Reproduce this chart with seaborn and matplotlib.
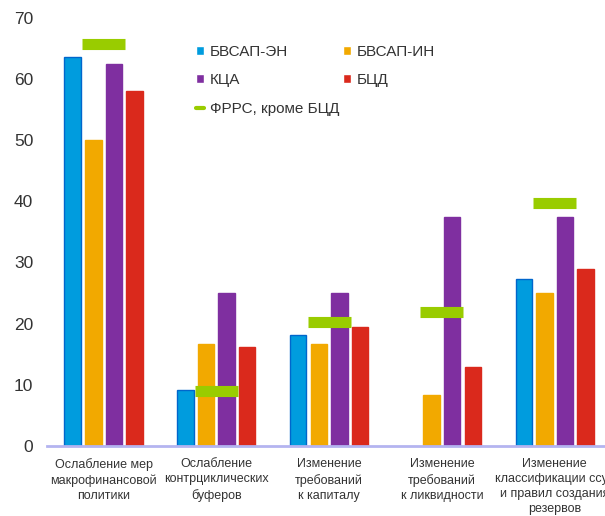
import numpy as np
import pandas as pd
import matplotlib
matplotlib.use("Agg")
import matplotlib.pyplot as plt
from matplotlib.lines import Line2D
import seaborn as sns

# --- data ---
categories = [
    "Ослабление мер\nмакрофинансовой\nполитики",
    "Ослабление\nконтрциклических\nбуферов",
    "Изменение\nтребований\nк капиталу",
    "Изменение\nтребований\nк ликвидности",
    "Изменение\nклассификации ссуд\nи правил создания\nрезервов",
]
series_names = ["БВСАП-ЭН", "БВСАП-ИН", "КЦА", "БЦД"]
bvsap_en = [63.6, 9.1, 18.2, np.nan, 27.3]
bvsap_in = [50.0, 16.7, 16.7, 8.3, 25.0]
kca = [62.5, 25.0, 25.0, 37.5, 37.5]
bcd = [58.1, 16.1, 19.4, 12.9, 29.0]
frrs_name = "ФРРС, кроме БЦД"
frrs = [65.8, 8.9, 20.2, 21.9, 39.7]

colors = ["#009CDE", "#F2A900", "#7F2FA0", "#DA291C"]
edge_colors = ["#0066CC", "#F2A900", "#7F2FA0", "#DA291C"]
green = "#99CC00"

df = pd.DataFrame({
    "category": np.tile(categories, 4),
    "series": np.repeat(series_names, len(categories)),
    "value": bvsap_en + bvsap_in + kca + bcd,
})

sns.set_style("white")
plt.rcParams["font.family"] = ["Liberation Sans", "DejaVu Sans"]

fig = plt.figure(figsize=(6.05, 5.16), dpi=100)
ax = fig.add_axes([0.078, 0.136, 0.932, 0.829])

sns.barplot(data=df, x="category", y="value", hue="series",
            hue_order=series_names, order=categories, palette=colors,
            width=0.73, gap=0.2, saturation=1, ax=ax, legend=True)

# darker outline on the blue bars
for cont, ec in zip(ax.containers, edge_colors):
    for p in cont:
        p.set_edgecolor(ec)
        p.set_linewidth(1.0)

# green markers for ФРРС
xpos = np.arange(len(categories))
ax.hlines(frrs, xpos - 0.19, xpos + 0.19, colors=green, linewidth=8,
          label=frrs_name, zorder=5)

ax.set_ylim(0, 70)
ax.set_xlim(-0.5, len(categories) - 0.5)
ax.set_yticks(range(0, 71, 10))
ax.set_xlabel("")
ax.set_ylabel("")
sns.despine(ax=ax, left=True, top=True, right=True)
ax.spines["bottom"].set_color("#B4B4F0")
ax.spines["bottom"].set_linewidth(2)
ax.tick_params(axis="y", labelsize=12.5, colors="#333333", length=0, pad=10)
ax.tick_params(axis="x", labelsize=9, colors="#333333", length=0, pad=9)
for lbl in ax.get_xticklabels():
    lbl.set_linespacing(1.33)

handles, labels = ax.get_legend_handles_labels()
hmap = dict(zip(labels, handles))
hmap[frrs_name] = Line2D([], [], color=green, linewidth=3)
order = ["БВСАП-ЭН", "КЦА", frrs_name, "БВСАП-ИН", "БЦД"]
leg = ax.legend([hmap[k] for k in order], order, ncol=2,
                loc="upper left", bbox_to_anchor=(0.301, 0.0, 0.6, 0.94),
                bbox_transform=fig.transFigure,
                frameon=False, fontsize=11, labelspacing=0.95,
                handlelength=0.55, handleheight=0.55, handletextpad=0.35,
                columnspacing=0.25)
for t in leg.get_texts():
    t.set_color("#333333")

fig.savefig("out.png", dpi=100)
